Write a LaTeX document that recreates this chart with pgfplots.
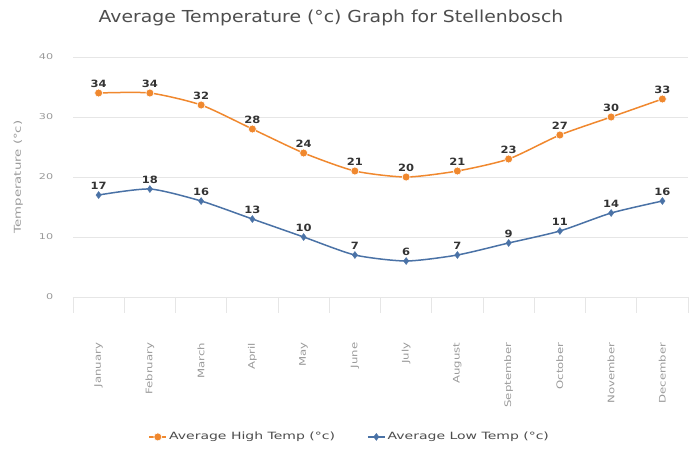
\documentclass[border=0pt]{standalone}
\usepackage{pgfplots}
\pgfplotsset{compat=1.18}
\usepackage{fontspec}
\setmainfont{DejaVu Sans}
\newfontfamily\titlefont[FakeStretch=1.14]{DejaVu Sans}
\newfontfamily\widefont[FakeStretch=1.4]{DejaVu Sans}
\newfontfamily\labfont[FakeStretch=1.3]{DejaVu Sans}
\newfontfamily\datafont[FakeStretch=1.15]{DejaVu Sans}
\definecolor{hicol}{HTML}{F0882E}
\definecolor{locol}{HTML}{4A72A6}
\definecolor{gridc}{HTML}{E6E6E6}
\definecolor{labc}{HTML}{9A9A9A}
\definecolor{titc}{HTML}{4D4D4D}
\begin{document}
\begin{tikzpicture}
\useasboundingbox (0pt,0pt) rectangle (696pt,448pt);
\node[font=\titlefont\fontsize{16.5}{19}\selectfont, text=titc] at (331pt,430pt) {Average Temperature (°c) Graph for Stellenbosch};
\begin{axis}[
  at={(73pt,151pt)}, anchor=south west,
  scale only axis, width=615pt, height=240pt,
  xmin=-0.5, xmax=11.5, ymin=0, ymax=40,
  ytick={0,10,20,30,40},
  ymajorgrids, grid style={gridc, line width=0.8pt},
  axis lines=left, axis line style={-},
  y axis line style={draw=none},
  x axis line style={draw=gridc, line width=1pt},
  ytick style={draw=none},
  xtick={0,...,11},
  xticklabels={January,February,March,April,May,June,July,August,September,October,November,December},
  major x tick style={draw=none},
  minor xtick={-0.5,0.5,...,11.5},
  minor x tick style={draw=gridc, line width=0.8pt},
  minor tick length=16pt, tick align=outside,
  xticklabel style={rotate=90, anchor=east, font=\labfont\fontsize{9}{10}\selectfont, text=labc},
  xticklabel shift=38pt,
  yticklabel style={font=\widefont\fontsize{8}{9}\selectfont, text=labc},
  yticklabel shift=12pt,
  /pgf/number format/assume math mode=true,
  ylabel={Temperature (°c)},
  ylabel style={at={(axis description cs:-0.089,0.5)}, rotate=0, anchor=center, font=\widefont\fontsize{9.5}{10}\selectfont, text=labc},
  nodes near coords,
  every node near coord/.append style={font=\datafont\bfseries\fontsize{10}{11}\selectfont, text=black!80, yshift=1.5pt},
  legend columns=2,
  legend style={at={(0.45,-0.583)}, anchor=center, draw=none, font=\widefont\fontsize{10}{11}\selectfont, text=titc, /tikz/every even column/.append style={column sep=30pt}},
  legend cell align=left,
  clip=false,
]
\addplot[hicol, line width=1.5pt, smooth, tension=0.4, mark=*, mark size=4pt, mark options={fill=hicol, draw=white, line width=0.6pt}] coordinates {
(0,34) (1,34) (2,32) (3,28) (4,24) (5,21) (6,20) (7,21) (8,23) (9,27) (10,30) (11,33)};
\addlegendentry{Average High Temp (°c)}
\addplot[locol, line width=1.5pt, smooth, tension=0.4, mark=diamond*, mark size=3.5pt, mark options={fill=locol, draw=locol, line width=0.4pt}] coordinates {
(0,17) (1,18) (2,16) (3,13) (4,10) (5,7) (6,6) (7,7) (8,9) (9,11) (10,14) (11,16)};
\addlegendentry{Average Low Temp (°c)}
\end{axis}
\end{tikzpicture}
\end{document}
